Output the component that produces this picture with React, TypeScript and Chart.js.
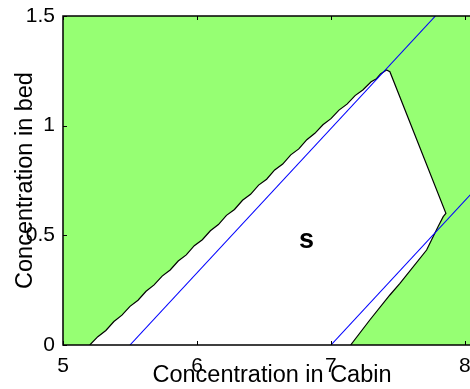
import { useEffect, useRef } from "react";
import { Chart, registerables } from "chart.js";

Chart.register(...registerables);

// Axis ranges and tick labels
const xRange = [5, 8.12];
const yRange = [0, 1.5];
const xTicks = [5, 6, 7, 8];
const yTicks = [0, 0.5, 1, 1.5];

// Outline of the safe region "s" (traced clockwise from the lower-left corner)
const regionX = [
  5.2, 5.26, 5.32, 5.38, 5.44, 5.5, 5.56, 5.62, 5.68, 5.74, 5.8, 5.86, 5.92,
  5.98, 6.04, 6.1, 6.16, 6.22, 6.28, 6.34, 6.4, 6.46, 6.52, 6.58, 6.64, 6.7,
  6.76, 6.82, 6.88, 6.94, 7.0, 7.06, 7.12, 7.18, 7.24, 7.3, 7.34, 7.37, 7.415,
  7.44, 7.858, 7.838, 7.8, 7.714, 7.515, 7.44, 7.29, 7.147,
];
const regionY = [
  0, 0.038, 0.066, 0.107, 0.136, 0.176, 0.204, 0.245, 0.274, 0.314, 0.342,
  0.383, 0.411, 0.453, 0.48, 0.521, 0.549, 0.591, 0.618, 0.66, 0.687, 0.729,
  0.756, 0.798, 0.825, 0.867, 0.894, 0.936, 0.965, 1.004, 1.032, 1.071, 1.098,
  1.137, 1.164, 1.2, 1.214, 1.236, 1.254, 1.246, 0.6, 0.585, 0.54, 0.433,
  0.281, 0.228, 0.114, 0,
];

// Two parallel limit lines
const upperLimitX = [5.5, 7.78];
const upperLimitY = [0, 1.5];
const lowerLimitX = [7.0, 8.2];
const lowerLimitY = [0, 0.79];

// Region label
const regionLabel = "s";
const regionLabelX = 6.817;
const regionLabelY = 0.442;

const xTitle = "Concentration in Cabin";
const yTitle = "Concentration in bed";

const FONT = "'Liberation Sans', Arial, Helvetica, sans-serif";
const GREEN = "#96ff73";

const toPoints = (xs: number[], ys: number[]) =>
  xs.map((x, i) => ({ x, y: ys[i] }));

const framePlugin = {
  id: "frame",
  beforeDraw(chart: any) {
    const { ctx, chartArea: a } = chart;
    ctx.save();
    ctx.fillStyle = GREEN;
    ctx.fillRect(a.left, a.top, a.right - a.left, a.bottom - a.top);
    ctx.restore();
  },
  afterDatasetsDraw(chart: any) {
    const { ctx, chartArea: a, scales } = chart;
    const sx = scales.x;
    const sy = scales.y;
    ctx.save();
    ctx.fillStyle = "#000";
    ctx.font = `bold 27px ${FONT}`;
    ctx.textAlign = "center";
    ctx.textBaseline = "alphabetic";
    ctx.fillText(
      regionLabel,
      sx.getPixelForValue(regionLabelX),
      sy.getPixelForValue(regionLabelY)
    );

    // inward tick marks
    ctx.strokeStyle = "#000";
    ctx.lineWidth = 1;
    ctx.beginPath();
    for (const v of xTicks) {
      const px = Math.round(sx.getPixelForValue(v)) + 0.5;
      ctx.moveTo(px, a.bottom);
      ctx.lineTo(px, a.bottom - 4);
      ctx.moveTo(px, a.top);
      ctx.lineTo(px, a.top + 4);
    }
    for (const v of yTicks) {
      const py = Math.round(sy.getPixelForValue(v)) + 0.5;
      ctx.moveTo(a.left, py);
      ctx.lineTo(a.left + 4, py);
    }
    ctx.stroke();

    // axes box
    ctx.lineWidth = 1.5;
    ctx.beginPath();
    ctx.moveTo(a.right, a.top);
    ctx.lineTo(a.left, a.top);
    ctx.lineTo(a.left, a.bottom);
    ctx.lineTo(a.right, a.bottom);
    ctx.stroke();
    ctx.restore();
  },
};

export default function App() {
  const canvasRef = useRef<HTMLCanvasElement | null>(null);

  useEffect(() => {
    if (!canvasRef.current) return;
    const chart = new Chart(canvasRef.current, {
      type: "scatter",
      data: {
        datasets: [
          {
            data: toPoints(upperLimitX, upperLimitY),
            showLine: true,
            borderColor: "#0000ff",
            borderWidth: 1.1,
            pointRadius: 0,
            fill: false,
          },
          {
            data: toPoints(lowerLimitX, lowerLimitY),
            showLine: true,
            borderColor: "#0000ff",
            borderWidth: 1.1,
            pointRadius: 0,
            fill: false,
          },
          {
            data: toPoints(regionX, regionY),
            showLine: true,
            borderColor: "#000000",
            borderWidth: 1.2,
            backgroundColor: "#ffffff",
            pointRadius: 0,
            fill: "shape",
            tension: 0,
          },
        ],
      },
      options: {
        animation: false,
        responsive: false,
        events: [],
        layout: {
          autoPadding: false,
          padding: { top: 16, right: 9, bottom: 0, left: 0 },
        },
        plugins: {
          legend: { display: false },
          tooltip: { enabled: false },
        },
        scales: {
          x: {
            type: "linear",
            min: xRange[0],
            max: xRange[1],
            afterBuildTicks: (s: any) => {
              s.ticks = xTicks.map((value) => ({ value }));
            },
            grid: { display: false, drawTicks: false },
            border: { display: false },
            ticks: {
              color: "#000",
              font: { family: FONT, size: 21 },
              padding: 9,
              maxRotation: 0,
              autoSkip: false,
              callback: (v: any) => String(v),
            },
            title: {
              display: true,
              text: xTitle,
              color: "#000",
              font: { family: FONT, size: 23.5 },
              padding: { top: -26.4, bottom: -1 },
            },
          },
          y: {
            type: "linear",
            min: yRange[0],
            max: yRange[1],
            afterBuildTicks: (s: any) => {
              s.ticks = yTicks.map((value) => ({ value }));
            },
            grid: { display: false, drawTicks: false },
            border: { display: false },
            ticks: {
              color: "#000",
              font: { family: FONT, size: 21, lineHeight: 0.6 },
              padding: 8,
              autoSkip: false,
              callback: (v: any) => String(v),
            },
            title: {
              display: true,
              text: yTitle,
              color: "#000",
              font: { family: FONT, size: 23.5 },
              padding: { top: 11, bottom: -21.4 },
            },
          },
        },
      },
      plugins: [framePlugin],
    } as any);
    return () => chart.destroy();
  }, []);

  return (
    <div
      style={{
        position: "fixed",
        left: 0,
        top: 0,
        width: 470,
        height: 389,
        overflow: "hidden",
        background: "#fff",
      }}
    >
      <canvas ref={canvasRef} width={490} height={389} style={{ display: "block" }} />
    </div>
  );
}
